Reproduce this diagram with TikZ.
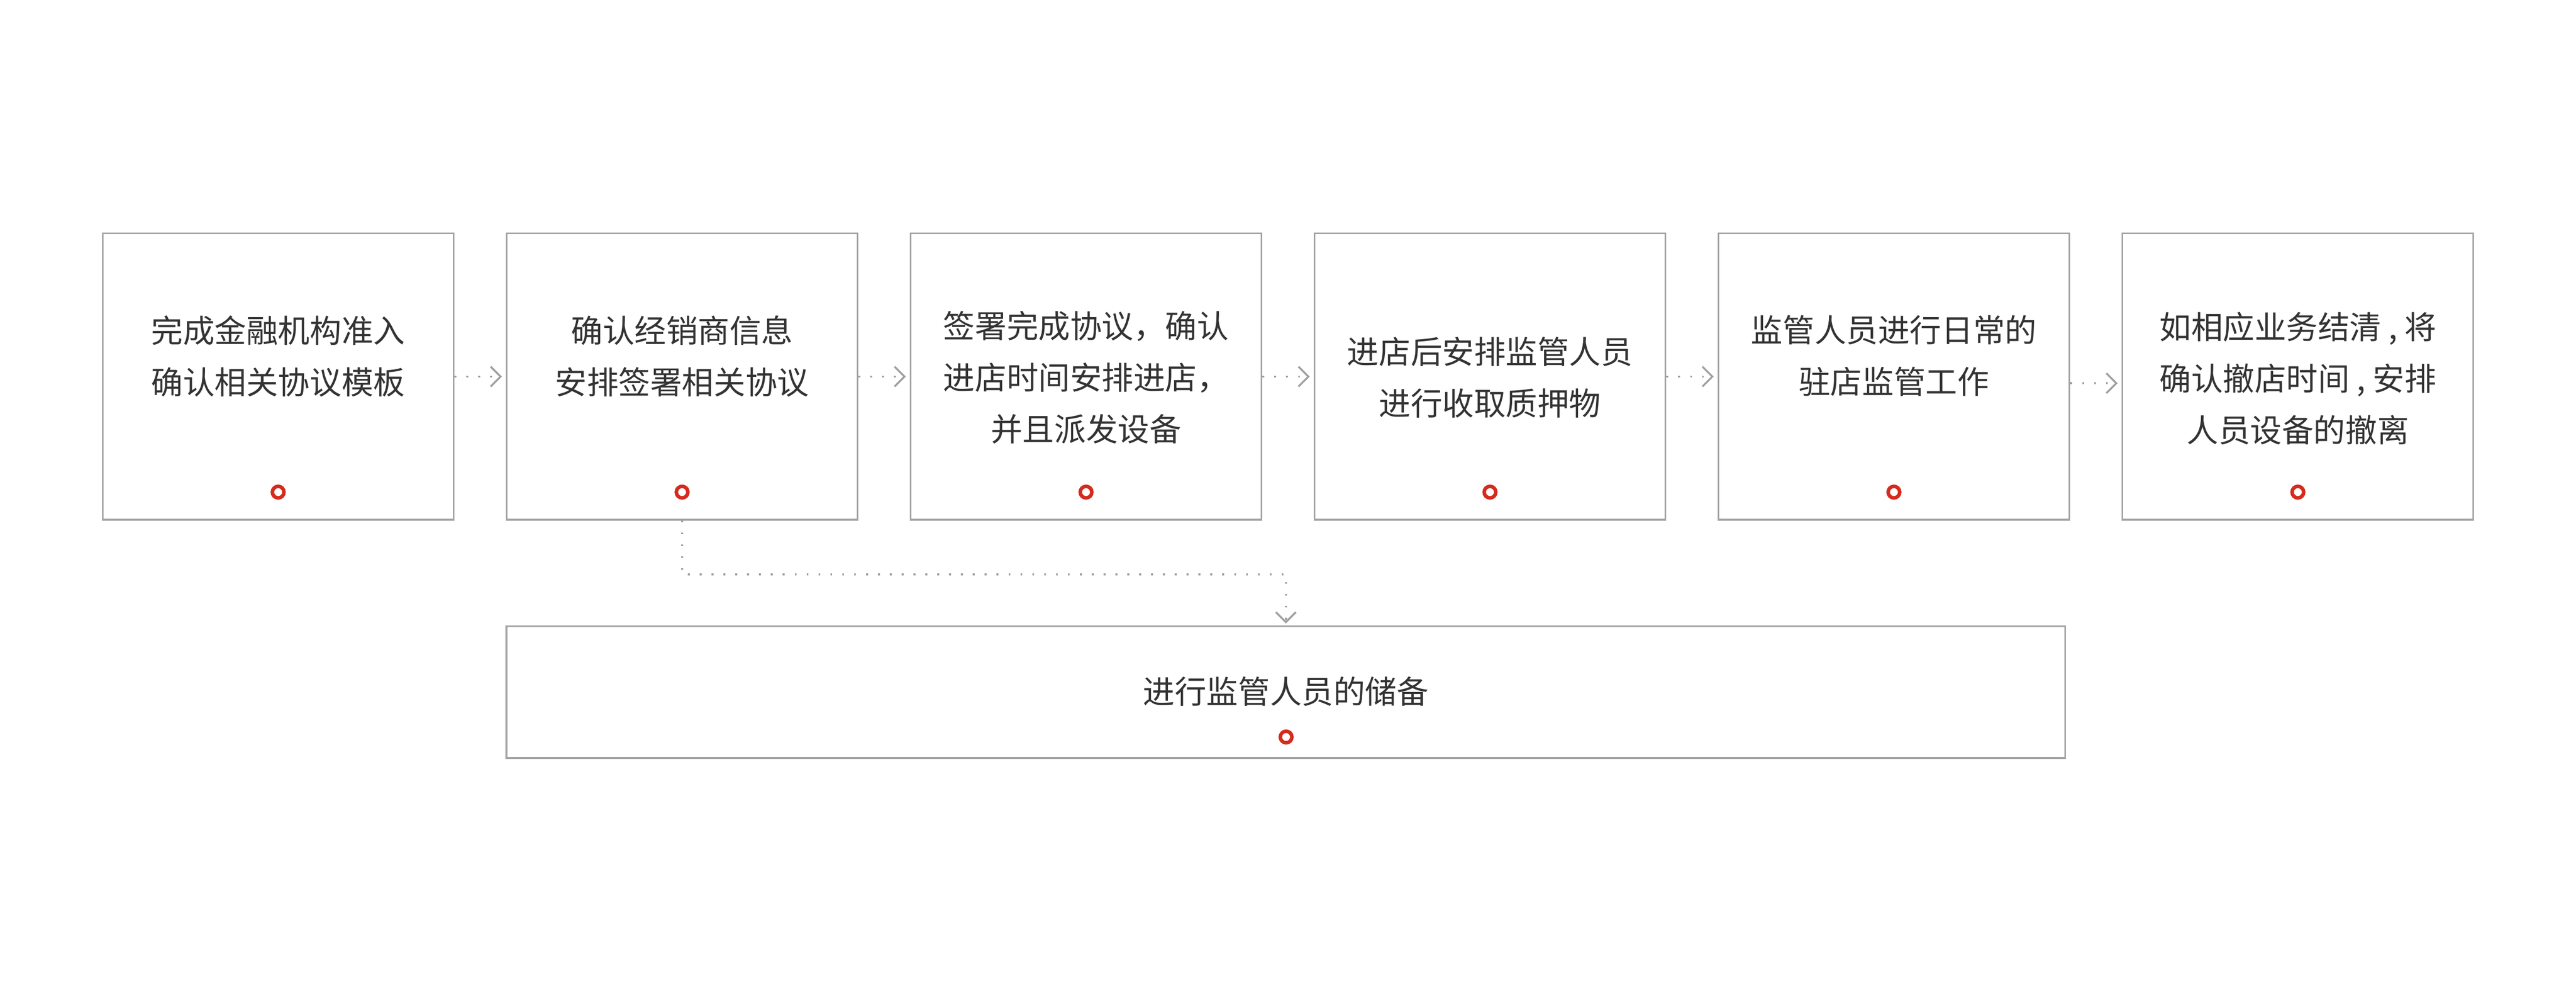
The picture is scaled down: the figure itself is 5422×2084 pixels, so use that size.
\documentclass[tikz,border=0pt]{standalone}
\usepackage{fontspec}
\newfontfamily\cjk{Noto Sans CJK SC}
\usetikzlibrary{arrows.meta}
\definecolor{boxgray}{HTML}{A4A4A4}
\definecolor{dotgray}{HTML}{A0A0A0}
\definecolor{ringred}{HTML}{D52B1E}
\definecolor{txtgray}{HTML}{333333}

\begin{document}
\begin{tikzpicture}[x=0.1mm,y=-0.1mm,
  stagebox/.style={draw=boxgray,line width=0.35mm,minimum width=73.9mm,minimum height=60.2mm,inner sep=0pt},
  steptext/.style={text=txtgray,align=center,inner sep=0pt,font=\cjk\fontsize{19pt}{30.9pt}\selectfont},
  dotring/.style={circle,draw=ringred,line width=0.75mm,minimum size=2.44mm,inner sep=0pt},
  flow/.style={draw=dotgray,line width=0.4mm,dash pattern=on 0.4mm off 2.1mm,
    -{Straight Barb[length=2.1mm,width=4.2mm]},shorten >=0.8mm}]
\useasboundingbox (0,0) rectangle (5422,2084);

\node[stagebox] (s1) at (585.5,792) {};
\node[steptext] (t1) at (585.5,749) {完成金融机构准入\\确认相关协议模板};
\node[dotring] (r1) at (585.5,1035) {};

\node[stagebox] (s2) at (1435.7,792) {};
\node[steptext] (t2) at (1435.7,749) {确认经销商信息\\安排签署相关协议};
\node[dotring] (r2) at (1435.7,1035) {};

\node[stagebox] (s3) at (2285.9,792) {};
\node[steptext] (t3) at (2285.9,794) {签署完成协议，确认\\进店时间安排进店，\\并且派发设备};
\node[dotring] (r3) at (2285.9,1035) {};

\node[stagebox] (s4) at (3136.1,792) {};
\node[steptext] (t4) at (3136.1,794) {进店后安排监管人员\\进行收取质押物};
\node[dotring] (r4) at (3136.1,1035) {};

\node[stagebox] (s5) at (3986.3,792) {};
\node[steptext] (t5) at (3986.3,748) {监管人员进行日常的\\驻店监管工作};
\node[dotring] (r5) at (3986.3,1035) {};

\node[stagebox] (s6) at (4836.5,792) {};
\node[steptext] (t6) at (4836.5,796) {如相应业务结清 , 将\\确认撤店时间 , 安排\\人员设备的撤离};
\node[dotring] (r6) at (4836.5,1035) {};

% reserve of staff
\node[stagebox,minimum width=328.1mm,minimum height=27.7mm] (res) at (2706.5,1455.5) {};
\node[steptext] (tres) at (2706.5,1454) {进行监管人员的储备};
\node[dotring] (rres) at (2707,1550) {};

\draw[flow] (s1) -- (s2);
\draw[flow] (s2) -- (s3);
\draw[flow] (s3) -- (s4);
\draw[flow] (s4) -- (s5);
\draw[flow] ([yshift=-1.4mm]s5.east) -- ([yshift=-1.4mm]s6.west);
\draw[flow,shorten >=0.4mm] (s2.south) -- ++(0,113) -| (res.north);
\end{tikzpicture}
\end{document}
